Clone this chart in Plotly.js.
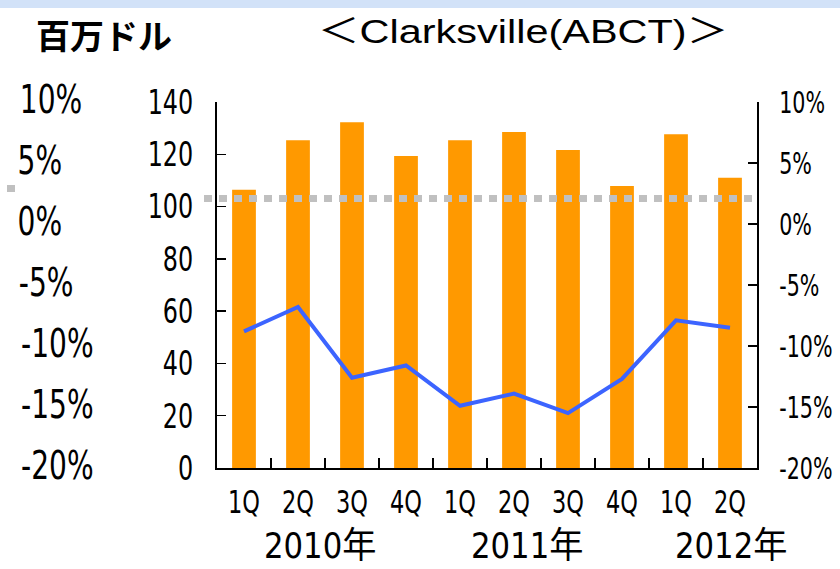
<!DOCTYPE html>
<html>
<head>
<meta charset="utf-8">
<script src="https://cdn.plot.ly/plotly-3.0.1.min.js"></script>
<style>html,body{margin:0;padding:0;background:#fff;}#chart{width:840px;height:569px;}</style>
</head>
<body>
<div id="chart"></div>
<script>
var categories = ["2010-1Q","2010-2Q","2010-3Q","2010-4Q","2011-1Q","2011-2Q","2011-3Q","2011-4Q","2012-1Q","2012-2Q"];
var quarterLabels = ["1Q","2Q","3Q","4Q","1Q","2Q","3Q","4Q","1Q","2Q"];
var yearLabels = ["2010年","2011年","2012年"];
var revenue = [106.4, 125.4, 132.3, 119.3, 125.4, 128.5, 121.6, 107.9, 127.7, 111.0];
var growthPct = [-8.8, -6.8, -12.6, -11.6, -14.9, -13.9, -15.5, -12.7, -7.9, -8.5];
var referencePct = 2.1;
var leftTicks = [0, 20, 40, 60, 80, 100, 120, 140];
var pctTicks = [10, 5, 0, -5, -10, -15, -20];
var pctTickText = ["10%", "5%", "0%", "-5%", "-10%", "-15%", "-20%"];

var FONT = '"DejaVu Sans Condensed", "Liberation Sans", "Noto Sans CJK JP", sans-serif';

var traces = [
  {type: 'bar', x: categories, y: revenue, marker: {color: '#ff9900'}, width: 0.44, hoverinfo: 'skip'},
  {type: 'scatter', mode: 'lines', x: categories, y: growthPct, yaxis: 'y2',
   line: {color: '#3c64ff', width: 4}, hoverinfo: 'skip'}
];

var yearX = [0.19, 0.574, 0.952];
var annotations = [];
yearLabels.forEach(function(t, i){
  annotations.push({text: t, xref: 'paper', yref: 'paper', x: yearX[i], y: (468 - 545) / 366, xanchor: 'center', yanchor: 'middle',
    showarrow: false, font: {family: FONT, size: 36, color: '#000'}, name: 'year'});
});
pctTicks.forEach(function(v, i){
  annotations.push({text: pctTickText[i], xref: 'paper', yref: 'y2', x: (10 - 217) / 540, y: v, xanchor: 'left', yanchor: 'middle',
    yshift: 3, showarrow: false, font: {family: FONT, size: 39, color: '#000'}, name: 'bigpct'});
});
annotations.push({text: '<b>百万ドル</b>', xref: 'paper', yref: 'paper', x: (34 - 217) / 540, y: (468 - 34) / 366,
  xanchor: 'left', yanchor: 'middle', showarrow: false, font: {family: '"Noto Sans CJK JP", sans-serif', size: 34, color: '#000'}, name: 'unit'});
annotations.push({text: '＜Clarksville(ABCT)＞', xref: 'paper', yref: 'paper', x: (523 - 217) / 540, y: (468 - 31) / 366,
  xanchor: 'center', yanchor: 'middle', showarrow: false, font: {family: '"Liberation Sans", "Noto Sans CJK JP", sans-serif', size: 34, color: '#000'}, name: 'title'});

var shapes = [
  {type: 'rect', xref: 'paper', yref: 'paper', x0: -0.5, x1: 1.2, y0: (468 - 8) / 366, y1: 1.4,
   fillcolor: '#d2e2f8', line: {width: 0}, layer: 'below'},
  {type: 'line', xref: 'paper', yref: 'y2', x0: (204 - 217) / 540, x1: 1, y0: referencePct, y1: referencePct,
   line: {color: '#c0c0c0', width: 7, dash: '8px,7px'}},
  {type: 'rect', xref: 'paper', yref: 'paper', x0: (7 - 217) / 540, x1: (15 - 217) / 540, y0: (468 - 192) / 366, y1: (468 - 185) / 366,
   fillcolor: '#c0c0c0', line: {width: 0}}
];

var layout = {
  width: 840, height: 569,
  margin: {l: 217, r: 83, t: 102, b: 101},
  paper_bgcolor: '#ffffff', plot_bgcolor: '#ffffff',
  showlegend: false,
  xaxis: {type: 'category', tickmode: 'array', tickvals: categories, ticktext: quarterLabels,
    tickson: 'boundaries', ticks: 'inside', ticklen: 10, tickwidth: 1.5, tickcolor: '#000',
    showline: true, linecolor: '#000', linewidth: 2, showgrid: false, zeroline: false,
    ticklabelstandoff: 5, tickfont: {family: FONT, size: 32, color: '#000'}, fixedrange: true},
  yaxis: {range: [0, 140], tickmode: 'array', tickvals: leftTicks, ticks: 'inside', ticklen: 9, tickwidth: 1.5,
    tickcolor: '#000', showline: true, linecolor: '#000', linewidth: 2, showgrid: false, zeroline: false,
    ticklabelstandoff: 15, tickfont: {family: FONT, size: 34, color: '#000'}, fixedrange: true},
  yaxis2: {overlaying: 'y', side: 'right', range: [-20, 10], tickmode: 'array', tickvals: pctTicks, ticktext: pctTickText,
    ticks: 'inside', ticklen: 9, tickwidth: 1.5, tickcolor: '#000', showline: true, linecolor: '#000', linewidth: 2,
    showgrid: false, zeroline: false, ticklabelstandoff: 14, tickfont: {family: FONT, size: 31, color: '#000'}, fixedrange: true},
  annotations: annotations,
  shapes: shapes
};

function stretch(el, sx) {
  var bb = el.getBBox();
  var anchor = el.getAttribute('text-anchor') || 'start';
  var ax = anchor === 'end' ? bb.x + bb.width : (anchor === 'middle' ? bb.x + bb.width / 2 : bb.x);
  var t = el.getAttribute('transform') || '';
  el.setAttribute('transform', t + ' translate(' + ax + ',0) scale(' + sx + ',1) translate(' + (-ax) + ',0)');
}

Plotly.newPlot('chart', traces, layout, {displayModeBar: false, staticPlot: true}).then(function(gd){
  gd.querySelectorAll('.ytick text').forEach(function(el){ stretch(el, 0.78); });
  gd.querySelectorAll('.y2tick text').forEach(function(el){ stretch(el, 0.74); });
  gd.querySelectorAll('.xtick text').forEach(function(el){ stretch(el, 0.78); });
  var anns = gd.querySelectorAll('.annotation');
  anns.forEach(function(a, i){
    var name = layout.annotations[i].name;
    var txt = a.querySelector('text');
    if (!txt) return;
    if (name === 'bigpct') stretch(txt, 0.8);
    else if (name === 'year') stretch(txt, 0.95);
    else if (name === 'title') stretch(txt, 1.22);
  });
});
</script>
</body>
</html>
